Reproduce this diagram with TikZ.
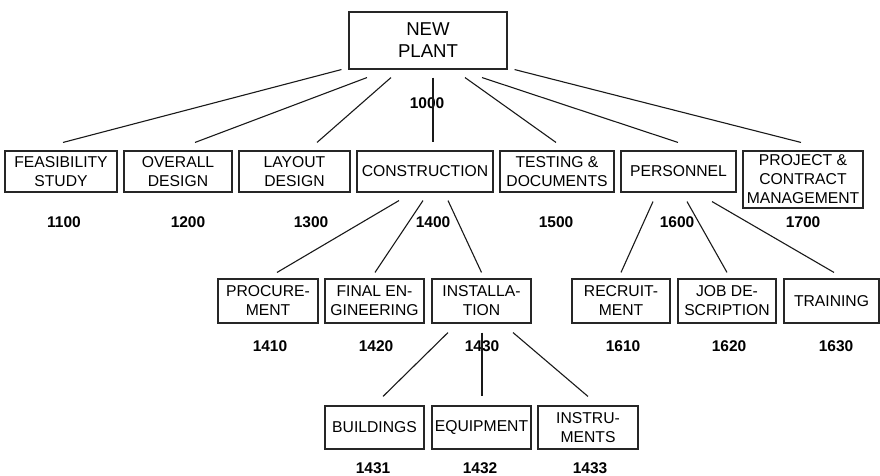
\documentclass[tikz,border=0pt]{standalone}
\usepackage{fontspec}
\setmainfont{Liberation Sans}
\begin{document}
\begin{tikzpicture}[x=1pt,y=-1pt,
  wbs/.style={draw=black!85,line width=1.1pt,rectangle,inner sep=0pt,align=center,
    font=\fontsize{15.7}{19}\selectfont},
  code/.style={inner sep=0pt,font=\fontsize{15.5}{18}\selectfont\bfseries},
  link/.style={draw=black!90,line width=1.1pt}]
\useasboundingbox (0,0) rectangle (880,476);

% root
\node[wbs,minimum width=158pt,minimum height=57pt,font=\fontsize{18.6}{22}\selectfont] (top) at (428,40.5) {NEW\\PLANT};

% first level
\node[wbs,minimum width=112pt,minimum height=41pt] (feas) at (61,171.5) {FEASIBILITY\\STUDY};
\node[wbs,minimum width=108pt,minimum height=41pt] (overall) at (178,171.5) {OVERALL\\DESIGN};
\node[wbs,minimum width=111pt,minimum height=41pt] (layout) at (294.5,171.5) {LAYOUT\\DESIGN};
\node[wbs,minimum width=136pt,minimum height=41pt] (constr) at (425,171.5) {CONSTRUCTION};
\node[wbs,minimum width=114pt,minimum height=41pt] (testing) at (557,171.5) {TESTING \&\\DOCUMENTS};
\node[wbs,minimum width=115pt,minimum height=41pt] (pers) at (678.5,171.5) {PERSONNEL};
\node[wbs,minimum width=120pt,minimum height=57pt] (project) at (803,179.5) {PROJECT \&\\CONTRACT\\MANAGEMENT};

% second level
\node[wbs,minimum width=100pt,minimum height=44pt] (proc) at (268,301) {PROCURE-\\MENT};
\node[wbs,minimum width=99pt,minimum height=44pt] (fineng) at (374.5,301) {FINAL EN-\\GINEERING};
\node[wbs,minimum width=99pt,minimum height=44pt] (inst) at (481.5,301) {INSTALLA-\\TION};
\node[wbs,minimum width=98pt,minimum height=44pt] (recruit) at (621,301) {RECRUIT-\\MENT};
\node[wbs,minimum width=98pt,minimum height=44pt] (job) at (727,301) {JOB DE-\\SCRIPTION};
\node[wbs,minimum width=95pt,minimum height=44pt] (train) at (831.5,301) {TRAINING};

% third level
\node[wbs,minimum width=99pt,minimum height=43pt] (build) at (374.5,427.5) {BUILDINGS};
\node[wbs,minimum width=99pt,minimum height=43pt] (equip) at (481.5,427.5) {EQUIPMENT};
\node[wbs,minimum width=100pt,minimum height=43pt] (instr) at (588,427.5) {INSTRU-\\MENTS};

% work package codes
\node[code] (c1000) at (427,103) {1000};
\node[code] (c1100) at (64,222) {1100};
\node[code] (c1200) at (188,222) {1200};
\node[code] (c1300) at (311,222) {1300};
\node[code] (c1400) at (433,222) {1400};
\node[code] (c1500) at (556,222) {1500};
\node[code] (c1600) at (677,222) {1600};
\node[code] (c1700) at (803,222) {1700};
\node[code] (c1410) at (270,346) {1410};
\node[code] (c1420) at (376,346) {1420};
\node[code] (c1430) at (482,346) {1430};
\node[code] (c1610) at (623,346) {1610};
\node[code] (c1620) at (729,346) {1620};
\node[code] (c1630) at (836,346) {1630};
\node[code] (c1431) at (373,468) {1431};
\node[code] (c1432) at (480,468) {1432};
\node[code] (c1433) at (590,468) {1433};

% root to first level
\draw[link] ([xshift=-7pt]top.south west) -- ([xshift=2pt,yshift=8pt]feas.north);
\draw[link] ([xshift=-61pt,yshift=-8pt]top.south) -- ([xshift=17pt,yshift=8pt]overall.north);
\draw[link] ([xshift=-37pt,yshift=-8pt]top.south) -- ([xshift=22.5pt,yshift=8pt]layout.north);
\draw[link] ([xshift=5pt,yshift=-8pt]top.south) -- ([xshift=8pt,yshift=8pt]constr.north);
\draw[link] ([xshift=37pt,yshift=-8pt]top.south) -- ([xshift=-1pt,yshift=8pt]testing.north);
\draw[link] ([xshift=54pt,yshift=-8pt]top.south) -- ([xshift=-0.5pt,yshift=8pt]pers.north);
\draw[link] ([xshift=7pt]top.south east) -- ([xshift=-2pt,yshift=8pt]project.north);

% construction breakdown
\draw[link] ([xshift=-26pt,yshift=-8pt]constr.south) -- ([xshift=9pt,yshift=6pt]proc.north);
\draw[link] ([xshift=-2pt,yshift=-8pt]constr.south) -- ([xshift=0.5pt,yshift=6pt]fineng.north);
\draw[link] ([xshift=23pt,yshift=-8pt]constr.south) -- ([yshift=6pt]inst.north);

% personnel breakdown
\draw[link] ([xshift=-25.5pt,yshift=-9pt]pers.south) -- ([yshift=6pt]recruit.north);
\draw[link] ([xshift=8.5pt,yshift=-9pt]pers.south) -- ([yshift=6pt]job.north);
\draw[link] ([xshift=33.5pt,yshift=-9pt]pers.south) -- ([xshift=2.5pt,yshift=6pt]train.north);

% installation breakdown
\draw[link] ([xshift=-33.5pt,yshift=-9pt]inst.south) -- ([xshift=8.5pt,yshift=9pt]build.north);
\draw[link] ([xshift=0.5pt,yshift=-9pt]inst.south) -- ([xshift=0.5pt,yshift=9pt]equip.north);
\draw[link] ([xshift=31.5pt,yshift=-9pt]inst.south) -- ([yshift=9pt]instr.north);
\end{tikzpicture}
\end{document}
